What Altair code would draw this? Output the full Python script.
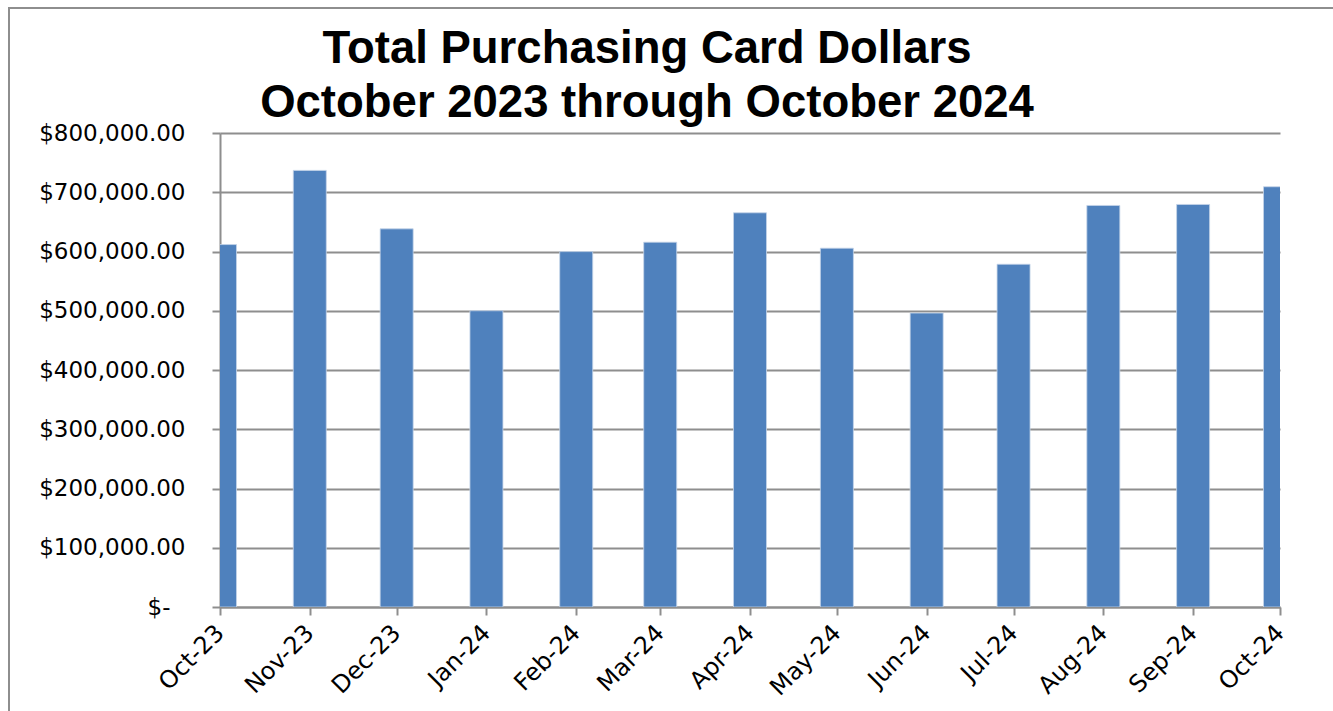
import altair as alt
import pandas as pd

months = ["2023-10-01", "2023-11-01", "2023-12-01", "2024-01-01", "2024-02-01",
          "2024-03-01", "2024-04-01", "2024-05-01", "2024-06-01", "2024-07-01",
          "2024-08-01", "2024-09-01", "2024-10-01"]
dollars = [611700, 736900, 638200, 500000, 599800, 615700, 665300,
           605600, 496100, 578500, 677700, 679400, 709300]
title_lines = ["Total Purchasing Card Dollars", "October 2023 through October 2024"]

df = pd.DataFrame({"month": months, "dollars": dollars})

W, H = 1060, 474
PAD_L, PAD_T = 220, 133

tick_vals = [alt.DateTime(year=int(m[:4]), month=int(m[5:7]), date=1, utc=True) for m in months]

one = pd.DataFrame({"a": [0]})

frame = alt.Chart(one).mark_rect(
    fill=None, stroke="#8E8E8E", strokeWidth=2, clip=False
).encode(
    x=alt.value(-PAD_L + 9), x2=alt.value(1333 - PAD_L + 6),
    y=alt.value(-PAD_T + 8), y2=alt.value(711 - PAD_T + 6)
)

title = alt.Chart(one).mark_text(
    font="Liberation Sans", fontSize=45.5, fontWeight="bold", color="#000000",
    align="center", baseline="alphabetic", lineHeight=53.5, clip=False
).encode(
    x=alt.value(647 - PAD_L), y=alt.value(63 - PAD_T),
    text=alt.value(title_lines)
)

bars = alt.Chart(df).mark_bar(
    size=33, clip=True, color="#4F81BD", stroke="#C5D4E8", strokeWidth=0.8
).encode(
    x=alt.X("month:T",
            scale=alt.Scale(type="utc", domain=[tick_vals[0], tick_vals[-1]], nice=False, padding=0),
            axis=alt.Axis(values=tick_vals,
                          labelExpr="utcFormat(datum.value, '%b-%y')",
                          labelAngle=-45, labelAlign="right", labelBaseline="middle",
                          labelFont="DejaVu Sans", labelFontSize=24, labelColor="#000000",
                          labelPadding=14, labelOverlap=False, labelBound=False,
                          labelFlush=False,
                          tickSize=8, tickColor="#8E8E8E", tickWidth=2,
                          domainColor="#8E8E8E", domainWidth=2,
                          grid=False, title=None)),
    y=alt.Y("dollars:Q",
            scale=alt.Scale(domain=[0, 800000], nice=False),
            axis=alt.Axis(values=[0, 100000, 200000, 300000, 400000, 500000, 600000, 700000, 800000],
                          labelExpr="datum.value == 0 ? '$-' : '$' + format(datum.value, ',.2f')",
                          labelFont="DejaVu Sans", labelFontSize=23, labelColor="#000000",
                          labelPadding={"condition": {"test": "datum.value == 0", "value": 42}, "value": 27},
                          tickSize=8, tickColor="#8E8E8E", tickWidth=2,
                          domainColor="#8E8E8E", domainWidth=2,
                          grid=True, gridColor="#8E8E8E", gridWidth=2,
                          title=None))
)

chart = alt.layer(frame, bars, title).properties(
    width=W, height=H,
    autosize=alt.AutoSizeParams(type="none"),
    padding={"left": PAD_L, "top": PAD_T, "right": 1333 - PAD_L - W, "bottom": 711 - PAD_T - H},
    background="#FFFFFF"
).configure_view(stroke=None)

chart.save("out.html", embed_options={"renderer": "svg", "actions": False})
